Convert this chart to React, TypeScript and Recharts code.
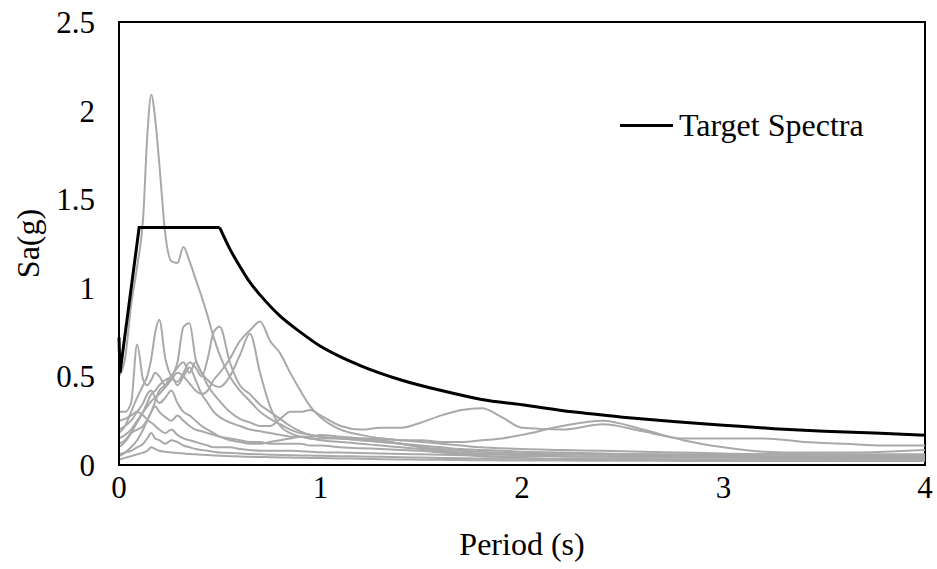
import React from "react"
import {
  LineChart,
  Line,
  XAxis,
  YAxis,
  ReferenceArea,
} from "recharts"

const FONT = '"Liberation Serif", "Times New Roman", serif'

// periods (s) shared by all ground motion records
const PERIODS = [
  0, 0.03, 0.06, 0.09, 0.12, 0.14, 0.16, 0.18, 0.2, 0.23, 0.26, 0.29, 0.32, 0.35,
  0.38, 0.41, 0.44, 0.47, 0.5, 0.55, 0.6, 0.65, 0.7, 0.75, 0.8, 0.85, 0.9, 0.95,
  1.0, 1.1, 1.2, 1.3, 1.4, 1.5, 1.6, 1.7, 1.8, 1.9, 2.0, 2.2, 2.4, 2.6, 2.8, 3.0,
  3.2, 3.4, 3.6, 3.8, 4.0,
]

// Sa(g) of each record, one value per period above
const REC_1 = [
  0.5, 0.6, 0.9, 1.12, 1.4, 1.85, 2.09, 1.95, 1.7, 1.3, 1.15, 1.14, 1.23, 1.15,
  1.05, 0.95, 0.84, 0.72, 0.62, 0.5, 0.42, 0.36, 0.3, 0.26, 0.23, 0.2, 0.18, 0.17,
  0.16, 0.15, 0.14, 0.13, 0.12, 0.11, 0.1, 0.09, 0.085, 0.08, 0.075, 0.07, 0.065,
  0.06, 0.055, 0.055, 0.05, 0.05, 0.05, 0.045, 0.045,
]
const REC_2 = [
  0.15, 0.17, 0.2, 0.25, 0.3, 0.33, 0.36, 0.38, 0.4, 0.44, 0.48, 0.52, 0.5, 0.46,
  0.42, 0.4, 0.42, 0.48, 0.52, 0.6, 0.7, 0.76, 0.81, 0.7, 0.63, 0.52, 0.42, 0.33,
  0.27, 0.2, 0.17, 0.15, 0.14, 0.13, 0.12, 0.11, 0.1, 0.095, 0.09, 0.085, 0.08,
  0.075, 0.07, 0.065, 0.06, 0.06, 0.058, 0.055, 0.055,
]
const REC_3 = [
  0.18, 0.22, 0.3, 0.38, 0.45, 0.5, 0.6, 0.75, 0.82, 0.6, 0.5, 0.47, 0.52, 0.58,
  0.55, 0.5, 0.6, 0.75, 0.78, 0.58, 0.45, 0.4, 0.34, 0.3, 0.26, 0.22, 0.19, 0.17,
  0.16, 0.15, 0.14, 0.13, 0.12, 0.1, 0.09, 0.08, 0.075, 0.07, 0.065, 0.06, 0.058,
  0.055, 0.052, 0.05, 0.05, 0.05, 0.048, 0.048, 0.05,
]
const REC_4 = [
  0.1, 0.13, 0.18, 0.24, 0.3, 0.35, 0.4, 0.42, 0.45, 0.48, 0.5, 0.58, 0.78, 0.8,
  0.6, 0.52, 0.48, 0.45, 0.44, 0.5, 0.62, 0.74, 0.52, 0.33, 0.22, 0.18, 0.16, 0.15,
  0.14, 0.13, 0.12, 0.11, 0.1, 0.09, 0.08, 0.07, 0.065, 0.06, 0.055, 0.05, 0.048,
  0.045, 0.044, 0.042, 0.04, 0.04, 0.04, 0.04, 0.04,
]
const REC_5 = [
  0.3, 0.3, 0.35, 0.68, 0.48, 0.45, 0.48, 0.52, 0.5, 0.45, 0.5, 0.55, 0.58, 0.52,
  0.58, 0.52, 0.45, 0.4, 0.36, 0.3, 0.26, 0.24, 0.22, 0.22, 0.26, 0.3, 0.3, 0.31,
  0.28, 0.22, 0.2, 0.21, 0.21, 0.24, 0.28, 0.31, 0.32, 0.27, 0.21, 0.2, 0.23, 0.19,
  0.15, 0.15, 0.15, 0.13, 0.12, 0.11, 0.11,
]
const REC_6 = [
  0.05, 0.07, 0.1, 0.14, 0.2, 0.25, 0.3, 0.36, 0.42, 0.45, 0.5, 0.45, 0.5, 0.55,
  0.48, 0.4, 0.35, 0.3, 0.27, 0.24, 0.22, 0.2, 0.19, 0.18, 0.17, 0.16, 0.16, 0.15,
  0.15, 0.15, 0.15, 0.15, 0.14, 0.14, 0.13, 0.13, 0.14, 0.15, 0.17, 0.22, 0.25, 0.2,
  0.14, 0.1, 0.075, 0.07, 0.07, 0.075, 0.085,
]
const REC_7 = [
  0.2, 0.22, 0.25, 0.3, 0.35, 0.4, 0.42, 0.38, 0.35, 0.38, 0.42, 0.35, 0.3, 0.28,
  0.25, 0.22, 0.2, 0.18, 0.16, 0.14, 0.13, 0.12, 0.12, 0.13, 0.14, 0.15, 0.16, 0.16,
  0.17, 0.16, 0.15, 0.14, 0.12, 0.1, 0.08, 0.065, 0.06, 0.06, 0.06, 0.06, 0.06,
  0.06, 0.06, 0.06, 0.06, 0.06, 0.06, 0.06, 0.06,
]
const REC_8 = [
  0.12, 0.14, 0.18, 0.2, 0.22, 0.25, 0.24, 0.22, 0.2, 0.18, 0.2, 0.17, 0.15, 0.14,
  0.13, 0.12, 0.11, 0.1, 0.1, 0.1, 0.09, 0.085, 0.08, 0.08, 0.08, 0.08, 0.078,
  0.075, 0.072, 0.07, 0.068, 0.065, 0.062, 0.06, 0.058, 0.055, 0.052, 0.05, 0.05,
  0.048, 0.046, 0.045, 0.044, 0.043, 0.042, 0.041, 0.04, 0.04, 0.04,
]
const REC_9 = [
  0.06, 0.07, 0.08, 0.1, 0.12, 0.15, 0.18, 0.15, 0.14, 0.12, 0.14, 0.13, 0.11, 0.1,
  0.09, 0.085, 0.08, 0.075, 0.07, 0.068, 0.065, 0.062, 0.06, 0.058, 0.056, 0.055,
  0.054, 0.053, 0.052, 0.05, 0.048, 0.046, 0.044, 0.042, 0.04, 0.038, 0.036, 0.035,
  0.035, 0.034, 0.033, 0.032, 0.032, 0.031, 0.03, 0.03, 0.03, 0.03, 0.03,
]
const REC_10 = [
  0.03, 0.04, 0.05, 0.06, 0.07, 0.08, 0.1, 0.09, 0.08, 0.075, 0.07, 0.068, 0.065,
  0.062, 0.06, 0.058, 0.056, 0.054, 0.052, 0.05, 0.048, 0.046, 0.045, 0.044, 0.043,
  0.042, 0.041, 0.04, 0.039, 0.037, 0.035, 0.033, 0.031, 0.03, 0.029, 0.028, 0.027,
  0.026, 0.025, 0.025, 0.024, 0.024, 0.023, 0.023, 0.022, 0.022, 0.022, 0.022, 0.022,
]
const REC_11 = [
  0.25, 0.26, 0.28, 0.3, 0.28, 0.26, 0.3, 0.33, 0.3, 0.27, 0.25, 0.28, 0.25, 0.22,
  0.2, 0.19, 0.18, 0.17, 0.16, 0.15, 0.14, 0.13, 0.13, 0.12, 0.12, 0.12, 0.12, 0.11,
  0.11, 0.1, 0.095, 0.09, 0.085, 0.08, 0.07, 0.06, 0.05, 0.045, 0.04, 0.035, 0.033,
  0.032, 0.031, 0.03, 0.03, 0.03, 0.028, 0.028, 0.028,
]

const RECORDS = [REC_1, REC_2, REC_3, REC_4, REC_5, REC_6, REC_7, REC_8, REC_9, REC_10, REC_11]

// design target spectrum: ramp + plateau, then the descending branch
const TARGET_RAMP_T = [0, 0.005, 0.1, 0.5]
const TARGET_RAMP_SA = [0.72, 0.52, 1.34, 1.34]
const TARGET_DECAY_T = [
  0.5, 0.55, 0.6, 0.65, 0.7, 0.8, 0.9, 1.0, 1.1, 1.2, 1.4, 1.6, 1.8, 2.0, 2.25, 2.5,
  2.75, 3.0, 3.25, 3.5, 3.75, 4.0,
]
const TARGET_DECAY_SA = [
  1.34, 1.22, 1.12, 1.03, 0.96, 0.84, 0.75, 0.67, 0.61, 0.56, 0.48, 0.42, 0.37, 0.34,
  0.3, 0.27, 0.245, 0.225, 0.205, 0.19, 0.18, 0.168,
]

const X_TICKS = [0, 1, 2, 3, 4]
const Y_TICKS = [0, 0.5, 1, 1.5, 2, 2.5]

const recordData = RECORDS.map((sa) => PERIODS.map((T, i) => ({ T, Sa: sa[i] })))
const rampData = TARGET_RAMP_T.map((T, i) => ({ T, Sa: TARGET_RAMP_SA[i] }))
const decayData = TARGET_DECAY_T.map((T, i) => ({ T, Sa: TARGET_DECAY_SA[i] }))

const tickStyle = { fill: "#000", fontSize: 31, fontFamily: FONT }

export default function App() {
  return (
    <div style={{ position: "absolute", left: 0, top: 0, width: 937, height: 569, background: "#fff" }}>
      <LineChart width={937} height={569} margin={{ top: 22, right: 12, bottom: 0, left: 0 }}>
        <XAxis
          dataKey="T"
          type="number"
          domain={[0, 4]}
          ticks={X_TICKS}
          height={104}
          tickSize={0}
          tickMargin={11}
          axisLine={{ stroke: "#000", strokeWidth: 2 }}
          tick={tickStyle}
          label={{ value: "Period (s)", position: "insideBottom", offset: 14, style: { fill: "#000", fontSize: 32, fontFamily: FONT } }}
        />
        <YAxis
          type="number"
          domain={[0, 2.5]}
          ticks={Y_TICKS}
          width={119}
          tickSize={0}
          tickMargin={24}
          axisLine={{ stroke: "#000", strokeWidth: 2 }}
          tick={tickStyle}
          label={{
            value: "Sa(g)",
            angle: -90,
            position: "insideLeft",
            offset: 28,
            style: { textAnchor: "middle", fill: "#000", fontSize: 32, fontFamily: FONT },
          }}
        />
        <ReferenceArea x1={0} x2={4} y1={0} y2={2.5} fill="none" stroke="#000" strokeWidth={2} ifOverflow="visible" />
        {recordData.map((d, i) => (
          <Line
            key={i}
            data={d}
            dataKey="Sa"
            type="monotone"
            stroke="#a9a9a9"
            strokeWidth={2}
            dot={false}
            isAnimationActive={false}
          />
        ))}
        <Line data={rampData} dataKey="Sa" type="linear" stroke="#000" strokeWidth={3} dot={false} isAnimationActive={false} />
        <Line data={decayData} dataKey="Sa" type="monotone" stroke="#000" strokeWidth={3} dot={false} isAnimationActive={false} />
      </LineChart>
      <div
        style={{
          position: "absolute",
          left: 620,
          top: 107,
          display: "flex",
          alignItems: "center",
          fontFamily: FONT,
          fontSize: 32,
          color: "#000",
          whiteSpace: "nowrap",
        }}
      >
        <span style={{ display: "inline-block", width: 53, height: 3, background: "#000", marginRight: 6 }} />
        <span>Target Spectra</span>
      </div>
    </div>
  )
}
